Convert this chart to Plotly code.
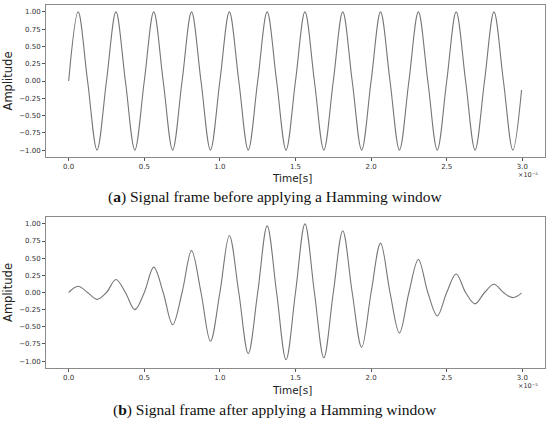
import plotly.graph_objects as go

# Time axis in units of 1e-5 s (samples at peaks / zero crossings of the carrier)
time_a = [0.0, 0.0625, 0.125, 0.1875, 0.25, 0.3125, 0.375, 0.4375, 0.5, 0.5625, 0.625, 0.6875,
          0.75, 0.8125, 0.875, 0.9375, 1.0, 1.0625, 1.125, 1.1875, 1.25, 1.3125, 1.375, 1.4375,
          1.5, 1.5625, 1.625, 1.6875, 1.75, 1.8125, 1.875, 1.9375, 2.0, 2.0625, 2.125, 2.1875,
          2.25, 2.3125, 2.375, 2.4375, 2.5, 2.5625, 2.625, 2.6875, 2.75, 2.8125, 2.875, 2.9375,
          2.995]
amp_a = [0, 1, 0, -1, 0, 1, 0, -1, 0, 1, 0, -1,
         0, 1, 0, -1, 0, 1, 0, -1, 0, 1, 0, -1,
         0, 1, 0, -1, 0, 1, 0, -1, 0, 1, 0, -1,
         0, 1, 0, -1, 0, 1, 0, -1, 0, 1, 0, -1,
         -0.13]
time_b = time_a
amp_b = [0, 0.09, 0, -0.10, 0, 0.19, 0, -0.25, 0, 0.37, 0, -0.47,
         0, 0.61, 0, -0.71, 0, 0.83, 0, -0.89, 0, 0.97, 0, -0.98,
         0, 1.00, 0, -0.95, 0, 0.90, 0, -0.80, 0, 0.72, 0, -0.59,
         0, 0.48, 0, -0.34, 0, 0.27, 0, -0.165, 0, 0.12, 0, -0.075,
         -0.01]

x_ticks = [0.0, 0.5, 1.0, 1.5, 2.0, 2.5, 3.0]
y_ticks = [-1.0, -0.75, -0.5, -0.25, 0.0, 0.25, 0.5, 0.75, 1.0]
captions = ["(<b>a</b>) Signal frame before applying a Hamming window",
            "(<b>b</b>) Signal frame after applying a Hamming window"]

LINE = "#767676"
FRAME = "#8a8a8a"
TICKFONT = dict(family="DejaVu Sans", size=7, color="#333333")

fig = go.Figure()
fig.add_trace(go.Scatter(x=time_a, y=amp_a, mode="lines", xaxis="x", yaxis="y",
                         line=dict(color=LINE, width=1.1, shape="spline", smoothing=1.0)))
fig.add_trace(go.Scatter(x=time_b, y=amp_b, mode="lines", xaxis="x2", yaxis="y2",
                         line=dict(color=LINE, width=1.1, shape="spline", smoothing=1.0)))

common_x = dict(range=[-0.15, 3.15], tickvals=x_ticks, ticktext=[f"{v:.1f}" for v in x_ticks],
                showgrid=False, zeroline=False, showline=True, mirror=True, linecolor=FRAME,
                linewidth=1, ticks="outside", ticklen=3, tickcolor="#555555", tickfont=TICKFONT,
                automargin=False)
common_y = dict(range=[-1.1, 1.1], tickvals=y_ticks,
                ticktext=[(f"{v:.2f}").replace("-", "\u2212") for v in y_ticks],
                showgrid=False, zeroline=False, showline=True, mirror=True, linecolor=FRAME,
                linewidth=1, ticks="outside", ticklen=3, tickcolor="#555555", tickfont=TICKFONT,
                automargin=False,
                title=dict(text="Amplitude", font=dict(family="DejaVu Sans", size=11.5, color="#222222"),
                           standoff=4))

LABEL = dict(family="DejaVu Sans", size=10.5, color="#222222")
CAP = dict(family="Liberation Serif", size=15.5, color="#111111")
OFF = dict(family="DejaVu Sans", size=6.5, color="#333333")

def py(pix):
    return (368 - pix) / 363

def px(pix):
    return (pix - 46) / 499

fig.update_layout(
    width=550, height=422,
    margin=dict(l=46, r=5, t=5, b=54),
    paper_bgcolor="white", plot_bgcolor="white",
    showlegend=False,
    xaxis=dict(common_x, domain=[0, 1], anchor="y"),
    yaxis=dict(common_y, domain=[py(157), 1.0], anchor="x"),
    xaxis2=dict(common_x, domain=[0, 1], anchor="y2"),
    yaxis2=dict(common_y, domain=[0.0, py(217)], anchor="x2"),
    annotations=[
        dict(text="Time[s]", xref="paper", yref="paper", x=px(292), y=py(178),
             xanchor="center", yanchor="middle", showarrow=False, font=LABEL),
        dict(text="Time[s]", xref="paper", yref="paper", x=px(292), y=py(390),
             xanchor="center", yanchor="middle", showarrow=False, font=LABEL),
        dict(text=captions[0], xref="paper", yref="paper", x=px(275), y=py(197),
             xanchor="center", yanchor="middle", showarrow=False, font=CAP),
        dict(text=captions[1], xref="paper", yref="paper", x=px(275), y=py(410),
             xanchor="center", yanchor="middle", showarrow=False, font=CAP),
        dict(text="\u00d710\u207b\u2075", xref="paper", yref="paper", x=px(540), y=py(174.5),
             xanchor="right", yanchor="middle", showarrow=False, font=OFF),
        dict(text="\u00d710\u207b\u2075", xref="paper", yref="paper", x=px(540), y=py(385.5),
             xanchor="right", yanchor="middle", showarrow=False, font=OFF),
    ],
)

fig.write_html("out.html", config={"displayModeBar": False},
               post_script="document.body.style.margin='0px';document.body.style.overflow='hidden';")
